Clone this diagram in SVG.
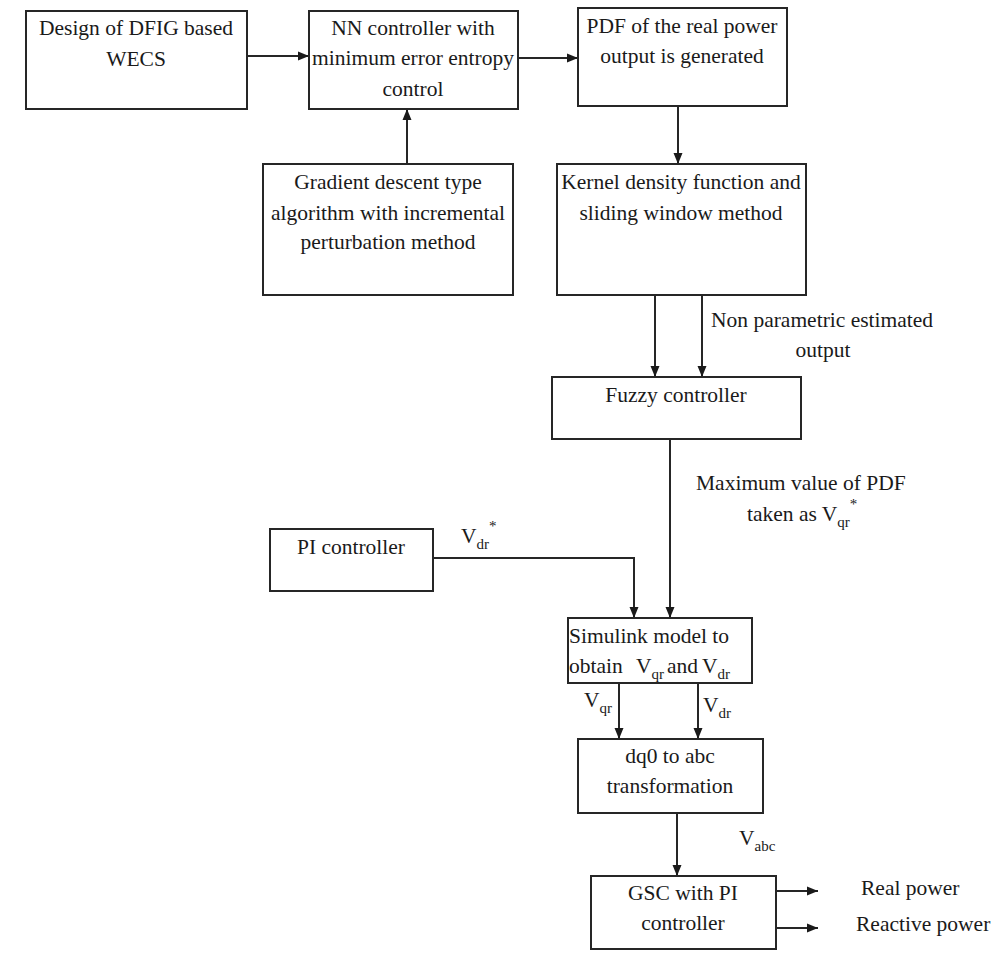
<svg xmlns="http://www.w3.org/2000/svg" width="1007" height="969" viewBox="0 0 1007 969">
<style>
.box{fill:#fff;stroke:#262626;stroke-width:2}
.ln{fill:none;stroke:#262626;stroke-width:2}
text{font-family:'Liberation Serif','DejaVu Serif',serif;font-size:21.5px;fill:#1a1a1a}
.c{text-anchor:middle}
.s{font-size:15px}
</style>
<defs>
<marker id="ah" markerUnits="userSpaceOnUse" markerWidth="12" markerHeight="10" refX="11" refY="5" orient="auto">
<path d="M0,0.5 L11,5 L0,9.5 z" fill="#1a1a1a"/>
</marker>
</defs>
<rect width="1007" height="969" fill="#fff"/>
<g id="connectors">
<path class="ln" d="M247,56 H309" marker-end="url(#ah)"/>
<path class="ln" d="M518,58 H578" marker-end="url(#ah)"/>
<path class="ln" d="M407,164 V109" marker-end="url(#ah)"/>
<path class="ln" d="M678,106 V164" marker-end="url(#ah)"/>
<path class="ln" d="M655,295 V377" marker-end="url(#ah)"/>
<path class="ln" d="M702,295 V377" marker-end="url(#ah)"/>
<path class="ln" d="M670,439 V618" marker-end="url(#ah)"/>
<path class="ln" d="M433,558 H634 V618" marker-end="url(#ah)"/>
<path class="ln" d="M619,683 V739" marker-end="url(#ah)"/>
<path class="ln" d="M698,683 V739" marker-end="url(#ah)"/>
<path class="ln" d="M677,813 V876" marker-end="url(#ah)"/>
<path class="ln" d="M776,891 H818" marker-end="url(#ah)"/>
<path class="ln" d="M776,928 H818" marker-end="url(#ah)"/>
<text x="711" y="327">Non parametric estimated</text>
<text class="c" x="823" y="357">output</text>
<text x="696" y="490">Maximum value of PDF</text>
<text x="747" y="521">taken as V<tspan class="s" dy="6">qr</tspan><tspan class="s" dy="-18">*</tspan></text>
<text x="461" y="543">V<tspan class="s" dy="6">dr</tspan><tspan class="s" dy="-18">*</tspan></text>
<text x="584" y="707">V<tspan class="s" dy="6">qr</tspan></text>
<text x="703" y="712">V<tspan class="s" dy="6">dr</tspan></text>
<text x="739" y="845">V<tspan class="s" dy="6">abc</tspan></text>
<text x="861" y="895">Real power</text>
<text x="856" y="931">Reactive power</text>
</g>
<g id="n1">
<rect class="box" x="26" y="11" width="221" height="98"/>
<text class="c" x="136" y="35">Design of DFIG based</text>
<text class="c" x="136" y="66">WECS</text>
</g>
<g id="n2">
<rect class="box" x="309" y="11" width="209" height="98"/>
<text class="c" x="413" y="35">NN controller with</text>
<text class="c" x="413" y="65">minimum error entropy</text>
<text class="c" x="413" y="96">control</text>
</g>
<g id="n3">
<rect class="box" x="578" y="8" width="209" height="98"/>
<text class="c" x="682" y="33">PDF of the real power</text>
<text class="c" x="682" y="63">output is generated</text>
</g>
<g id="n4">
<rect class="box" x="263" y="164" width="250" height="131"/>
<text class="c" x="388" y="189">Gradient descent type</text>
<text class="c" x="388" y="220">algorithm with incremental</text>
<text class="c" x="388" y="249">perturbation method</text>
</g>
<g id="n5">
<rect class="box" x="557" y="164" width="249" height="131"/>
<text class="c" x="681" y="189">Kernel density function and</text>
<text class="c" x="681" y="220">sliding window method</text>
</g>
<g id="n6">
<rect class="box" x="552" y="377" width="249" height="62"/>
<text class="c" x="676" y="402">Fuzzy controller</text>
</g>
<g id="n7">
<rect class="box" x="270" y="529" width="163" height="62"/>
<text class="c" x="351" y="554">PI controller</text>
</g>
<g id="n8">
<rect class="box" x="568" y="618" width="184" height="65"/>
<text x="569" y="643">Simulink model to</text>
<text x="569" y="673">obtain</text>
<text x="636" y="673">V<tspan class="s" dy="6">qr</tspan></text>
<text x="667" y="673">and</text>
<text x="702" y="673">V<tspan class="s" dy="6">dr</tspan></text>
</g>
<g id="n9">
<rect class="box" x="578" y="739" width="185" height="74"/>
<text class="c" x="670" y="763">dq0 to abc</text>
<text class="c" x="670" y="793">transformation</text>
</g>
<g id="n10">
<rect class="box" x="591" y="876" width="185" height="73"/>
<text class="c" x="683" y="900">GSC with PI</text>
<text class="c" x="683" y="930">controller</text>
</g>
</svg>
